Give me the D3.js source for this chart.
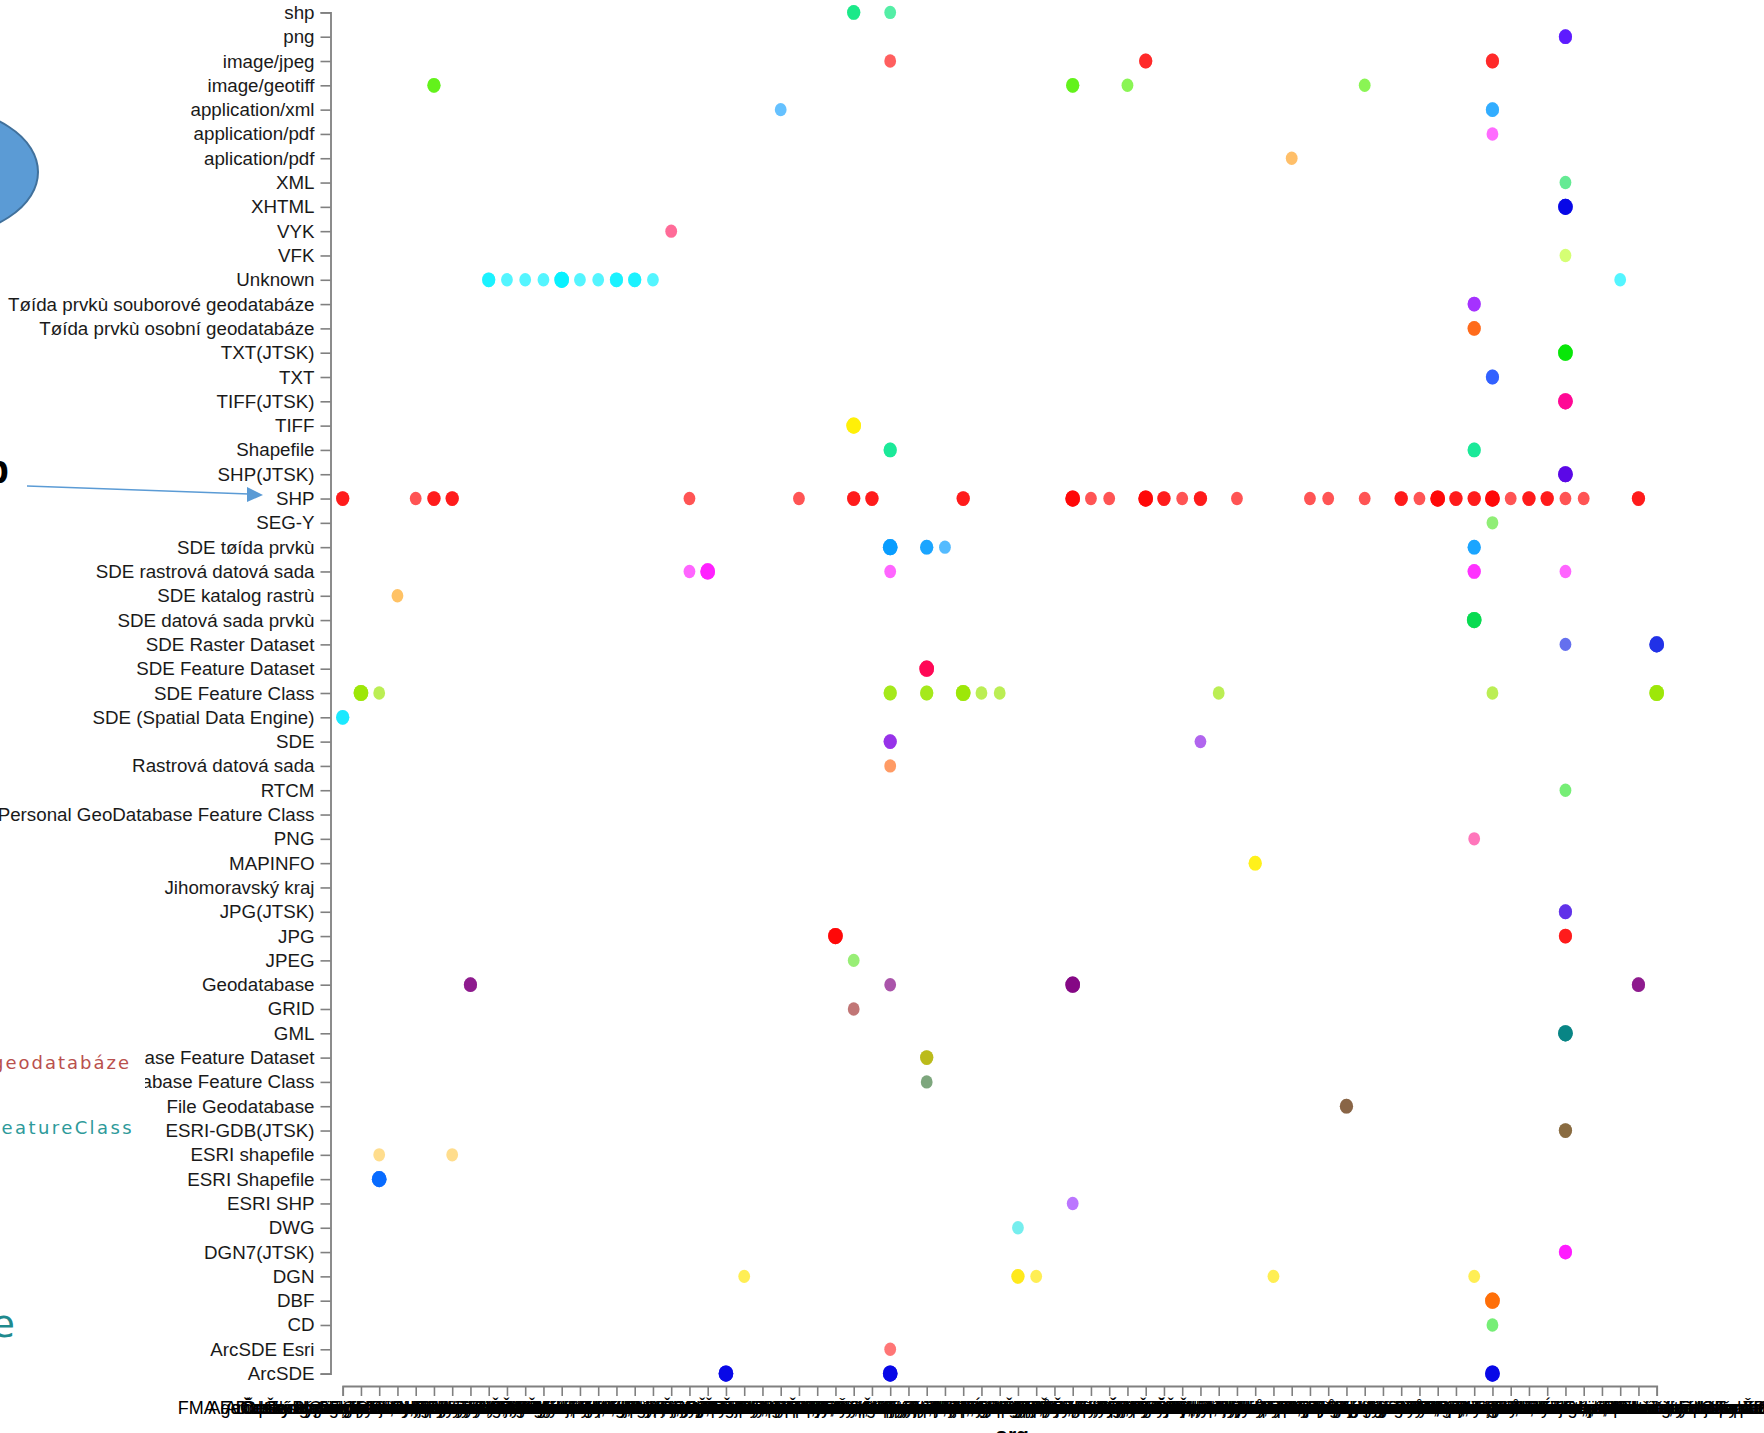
<!DOCTYPE html>
<html><head><meta charset="utf-8">
<script src="https://cdn.jsdelivr.net/npm/d3@7"></script>
<style>
html,body{margin:0;padding:0;background:#fff;overflow:hidden}
svg{display:block;font-family:"Liberation Sans",Arial,sans-serif}
</style></head><body>
<svg id="c" width="1764" height="1433"></svg>
<script>
// formats (y categories), top to bottom
const formats = [
 "shp","png","image/jpeg","image/geotiff","application/xml","application/pdf","aplication/pdf",
 "XML","XHTML","VYK","VFK","Unknown","Tøída prvkù souborové geodatabáze","Tøída prvkù osobní geodatabáze",
 "TXT(JTSK)","TXT","TIFF(JTSK)","TIFF","Shapefile","SHP(JTSK)","SHP","SEG-Y","SDE tøída prvkù",
 "SDE rastrová datová sada","SDE katalog rastrù","SDE datová sada prvkù","SDE Raster Dataset",
 "SDE Feature Dataset","SDE Feature Class","SDE (Spatial Data Engine)","SDE","Rastrová datová sada",
 "RTCM","Personal GeoDatabase Feature Class","PNG","MAPINFO","Jihomoravský kraj","JPG(JTSK)","JPG",
 "JPEG","Geodatabase","GRID","GML","File Geodatabase Feature Dataset","File Geodatabase Feature Class",
 "File Geodatabase","ESRI-GDB(JTSK)","ESRI shapefile","ESRI Shapefile","ESRI SHP","DWG","DGN7(JTSK)",
 "DGN","DBF","CD","ArcSDE Esri","ArcSDE"
];
const formatColors = [
 "#00e67a","#4a00ff","#ff1010","#50f000","#1aa3ff","#ff22ff","#ffa020",
 "#1ae060","#0000e6","#ff2266","#c0ff30","#00f0ff","#9a1aff","#ff5a00",
 "#00e600","#1a4dff","#ff0090","#ffee00","#00e68c","#5500e6","#ff0000","#5ae633","#0099ff",
 "#ff1aff","#ffa41a","#00d94a","#1a2ae6",
 "#ff0050","#99e600","#00e6ff","#8a1ae6","#ff6a1a",
 "#33e633","#888888","#ff3399","#ffee00","#888888","#4d1ae6","#ff0000",
 "#66e633","#800080","#a33333","#008080","#b3b300","#3d7a3d",
 "#7a5230","#7a5a2a","#ffcc55","#0066ff","#9a33ff","#33e6e6","#ff00ff",
 "#ffe600","#ff6a00","#33e633","#ff3333","#0000e6"
];
// organisations (x categories)
const orgs = [
 "FMA Fakulta managementu UTB ve Zlíně",
 "Agentura ochrany přírody a krajiny ČR",
 "Arcdata Praha, s.r.o., oddělení GIS dat",
 "Český hydrometeorologický ústav, Brno",
 "Česká geologická služba, odbor informatiky",
 "Český statistický úřad, odbor regionální statistiky",
 "Český úřad zeměměřický a katastrální, Praha 8",
 "Dopravní podnik hlavního města Prahy, akciová společnost",
 "Ekologický institut Veronica, základní organizace ČSOP",
 "Geodis Brno, spol. s r.o., oddělení fotogrammetrie",
 "GEODIS Geodetický a kartografický ústav Bratislava",
 "Hasičský záchranný sbor České republiky, generální ředitelství",
 "Institut plánování a rozvoje hlavního města Prahy",
 "Krajský úřad Jihočeského kraje, odbor životního prostředí",
 "Jihomoravský kraj, odbor životního prostředí a zemědělství",
 "Krajský úřad Karlovarského kraje, odbor informatiky",
 "Krajský úřad Kraje Vysočina, oddělení geografických informací",
 "Krajský úřad Královéhradeckého kraje, odbor regionálního rozvoje",
 "Krajský úřad Libereckého kraje, oddělení GIS a informatiky",
 "Lesy České republiky, státní podnik, Hradec Králové",
 "Magistrát hlavního města Prahy, odbor informatiky",
 "Magistrát města Brna, odbor územního plánování a rozvoje",
 "Magistrát města Ostravy, odbor hospodářské správy a GIS",
 "Ministerstvo dopravy České republiky, odbor infrastruktury",
 "Ministerstvo obrany České republiky, Geografická služba AČR",
 "Ministerstvo vnitra České republiky, odbor archivní správy",
 "Ministerstvo zemědělství České republiky, odbor vodovodů",
 "Ministerstvo životního prostředí České republiky, odbor IS",
 "Krajský úřad Moravskoslezského kraje, odbor životního prostředí",
 "Městský úřad Kroměříž, odbor informatiky a geografických dat",
 "Krajský úřad Olomouckého kraje, odbor strategického rozvoje",
 "Krajský úřad Pardubického kraje, oddělení GIS a informatiky",
 "Krajský úřad Plzeňského kraje, odbor informatiky a GIS",
 "Povodí Labe, státní podnik, Hradec Králové, útvar GIS",
 "Povodí Moravy, státní podnik, Brno, oddělení informatiky",
 "Povodí Odry, státní podnik, Ostrava, oddělení informatiky",
 "Povodí Ohře, státní podnik, Chomutov, oddělení informatiky",
 "Povodí Vltavy, státní podnik, Praha, oddělení informatiky",
 "Ředitelství silnic a dálnic České republiky, Praha 4",
 "Správa Krkonošského národního parku, Vrchlabí, oddělení GIS",
 "Správa Národního parku České Švýcarsko, Krásná Lípa",
 "Správa Národního parku Podyjí, Znojmo, oddělení GIS",
 "Správa Národního parku a CHKO Šumava, Vimperk, GIS",
 "Státní pozemkový úřad, odbor informačních technologií",
 "Státní úřad pro jadernou bezpečnost, odbor radiační ochrany",
 "Krajský úřad Středočeského kraje, odbor životního prostředí",
 "Technologická agentura České republiky, oddělení programů",
 "Ústav pro hospodářskou úpravu lesů Brandýs nad Labem",
 "Krajský úřad Ústeckého kraje, odbor informatiky a GIS",
 "Výzkumný ústav meliorací a ochrany půdy, v.v.i., Praha",
 "Výzkumný ústav vodohospodářský T. G. Masaryka, v.v.i.",
 "Vojenský geografický a hydrometeorologický úřad Dobruška",
 "Zeměměřický úřad, odbor správy geografických podkladů",
 "Krajský úřad Zlínského kraje, odbor životního prostředí",
 "Centrum dopravního výzkumu, veřejná výzkumná instituce",
 "CENIA, česká informační agentura životního prostředí",
 "Česká inspekce životního prostředí, ředitelství Praha",
 "Česká zemědělská univerzita v Praze, Fakulta lesnická",
 "České vysoké učení technické v Praze, Fakulta stavební",
 "Masarykova univerzita v Brně, Geografický ústav PřF",
 "Mendelova univerzita v Brně, Lesnická a dřevařská fakulta",
 "Univerzita Palackého v Olomouci, katedra geoinformatiky",
 "Vysoké učení technické v Brně, Fakulta stavební, ústav geodézie",
 "Vysoká škola báňská – Technická univerzita Ostrava, HGF",
 "Západočeská univerzita v Plzni, Fakulta aplikovaných věd",
 "Technická univerzita v Liberci, Fakulta přírodovědně-humanitní",
 "Univerzita J. E. Purkyně v Ústí nad Labem, Fakulta ŽP",
 "Krajský úřad Jihomoravského kraje, odbor životního prostředí",
 "Magistrát města Olomouce, odbor koncepce a rozvoje",
 "Magistrát města Zlína, odbor informatiky a GIS",
 "Městský úřad Hodonín, odbor životního prostředí a GIS",
 "Městský úřad Znojmo, odbor územního plánování a GIS",
 "Krajský úřad Pardubického kraje, odbor RaSHdys"
];
// records: [format, org index, number of datasets]
const points = [
 ["shp",28,2],["shp",30,1],
 ["png",67,2],
 ["image/jpeg",30,1],["image/jpeg",44,2],["image/jpeg",63,2],
 ["image/geotiff",5,2],["image/geotiff",40,2],["image/geotiff",43,1],["image/geotiff",56,1],
 ["application/xml",24,1],["application/xml",63,2],
 ["application/pdf",63,1],
 ["aplication/pdf",52,1],
 ["XML",67,1],
 ["XHTML",67,3],
 ["VYK",18,1],
 ["VFK",67,1],
 ["Unknown",8,2],["Unknown",9,1],["Unknown",10,1],["Unknown",11,1],["Unknown",12,3],["Unknown",13,1],
 ["Unknown",14,1],["Unknown",15,2],["Unknown",16,2],["Unknown",17,1],["Unknown",70,1],
 ["Tøída prvkù souborové geodatabáze",62,2],
 ["Tøída prvkù osobní geodatabáze",62,2],
 ["TXT(JTSK)",67,3],
 ["TXT",63,2],
 ["TIFF(JTSK)",67,3],
 ["TIFF",28,3],
 ["Shapefile",30,2],["Shapefile",62,2],
 ["SHP(JTSK)",67,3],
 ["SHP",0,2],["SHP",4,1],["SHP",5,2],["SHP",6,2],["SHP",19,1],["SHP",25,1],["SHP",28,2],["SHP",29,2],
 ["SHP",34,2],["SHP",40,3],["SHP",41,1],["SHP",42,1],["SHP",44,3],["SHP",45,2],["SHP",46,1],["SHP",47,2],
 ["SHP",49,1],["SHP",53,1],["SHP",54,1],["SHP",56,1],["SHP",58,2],["SHP",59,1],["SHP",60,3],["SHP",61,2],
 ["SHP",62,2],["SHP",63,3],["SHP",64,1],["SHP",65,2],["SHP",66,2],["SHP",67,1],["SHP",68,1],["SHP",71,2],
 ["SEG-Y",63,1],
 ["SDE tøída prvkù",30,3],["SDE tøída prvkù",32,2],["SDE tøída prvkù",33,1],["SDE tøída prvkù",62,2],
 ["SDE rastrová datová sada",19,1],["SDE rastrová datová sada",20,3],["SDE rastrová datová sada",30,1],
 ["SDE rastrová datová sada",62,2],["SDE rastrová datová sada",67,1],
 ["SDE katalog rastrù",3,1],
 ["SDE datová sada prvkù",62,3],
 ["SDE Raster Dataset",67,1],["SDE Raster Dataset",72,3],
 ["SDE Feature Dataset",32,3],
 ["SDE Feature Class",1,3],["SDE Feature Class",2,1],["SDE Feature Class",30,2],["SDE Feature Class",32,2],
 ["SDE Feature Class",34,3],["SDE Feature Class",35,1],["SDE Feature Class",36,1],["SDE Feature Class",48,1],
 ["SDE Feature Class",63,1],["SDE Feature Class",72,3],
 ["SDE (Spatial Data Engine)",0,2],
 ["SDE",30,2],["SDE",47,1],
 ["Rastrová datová sada",30,1],
 ["RTCM",67,1],
 ["PNG",62,1],
 ["MAPINFO",50,2],
 ["JPG(JTSK)",67,2],
 ["JPG",27,3],["JPG",67,2],
 ["JPEG",28,1],
 ["Geodatabase",7,2],["Geodatabase",30,1],["Geodatabase",40,3],["Geodatabase",71,2],
 ["GRID",28,1],
 ["GML",67,3],
 ["File Geodatabase Feature Dataset",32,2],
 ["File Geodatabase Feature Class",32,1],
 ["File Geodatabase",55,2],
 ["ESRI-GDB(JTSK)",67,2],
 ["ESRI shapefile",2,1],["ESRI shapefile",6,1],
 ["ESRI Shapefile",2,3],
 ["ESRI SHP",40,1],
 ["DWG",37,1],
 ["DGN7(JTSK)",67,2],
 ["DGN",22,1],["DGN",37,2],["DGN",38,1],["DGN",51,1],["DGN",62,1],
 ["DBF",63,3],
 ["CD",63,1],
 ["ArcSDE Esri",30,1],
 ["ArcSDE",21,3],["ArcSDE",30,3],["ArcSDE",63,3]
];

const svg = d3.select("#c");
const x = d3.scalePoint().domain(orgs).range([342.7, 1656.7]);
const y = d3.scalePoint().domain(formats).range([12.4, 1373.6]);
const color = d3.scaleOrdinal().domain(formats).range(formatColors);

// axes
const axisColor = "#808080";
const gy = svg.append("g").attr("transform","translate(330.5,0)")
  .call(d3.axisLeft(y).tickSize(10).tickPadding(6).tickSizeOuter(10));
gy.selectAll("text").attr("font-size","18.75px").attr("fill","#1a1a1a")
  .attr("font-family","Liberation Sans, Arial, sans-serif");
gy.selectAll("line").attr("stroke",axisColor).attr("stroke-width",1.6);
gy.select(".domain").attr("stroke",axisColor).attr("stroke-width",1.8);

const gx = svg.append("g").attr("transform","translate(0,1386)")
  .call(d3.axisBottom(x).tickSize(10).tickPadding(5).tickSizeOuter(10));
gx.selectAll("text").attr("font-size","18px").attr("fill","#000")
  .attr("font-family","Liberation Sans, Arial, sans-serif");
gx.selectAll("line").attr("stroke",axisColor).attr("stroke-width",1.6);
gx.select(".domain").attr("stroke",axisColor).attr("stroke-width",1.8);

svg.append("text").attr("x",1012).attr("y",1442).attr("text-anchor","middle")
  .attr("font-size","21px").attr("font-weight","bold").attr("fill","#000").text("org");

// dots: one translucent disc per dataset, stacked
const dots = [];
points.forEach(([f,o,n]) => { for (let k=0;k<n;k++) dots.push({f,o,n}); });
svg.append("g").selectAll("ellipse").data(dots).join("ellipse")
  .attr("cx", d => x(orgs[d.o]))
  .attr("cy", d => y(d.f))
  .attr("rx", d => 5.9 + (d.n-1)*0.7)
  .attr("ry", d => 6.7 + (d.n-1)*0.7)
  .attr("fill", d => color(d.f))
  .attr("fill-opacity", 0.67);

// slide annotations overlapping the chart on the left
const ann = svg.append("g");
ann.append("ellipse").attr("cx",-62).attr("cy",172).attr("rx",100).attr("ry",64)
  .attr("fill","#5b9bd5").attr("stroke","#41719c").attr("stroke-width",2);
ann.append("text").attr("x",9).attr("y",483).attr("text-anchor","end")
  .attr("font-size","40px").attr("font-weight","bold").attr("fill","#000").text("shp");
ann.append("line").attr("x1",27).attr("y1",486).attr("x2",249).attr("y2",494)
  .attr("stroke","#5b9bd5").attr("stroke-width",1.6);
ann.append("path").attr("d","M263,495 L247,487 L247,502 Z").attr("fill","#5b9bd5");
ann.append("rect").attr("x",0).attr("y",1046).attr("width",145).attr("height",96).attr("fill","#fff");
ann.append("text").attr("x",131).attr("y",1069).attr("text-anchor","end")
  .attr("font-family","DejaVu Sans, sans-serif").attr("font-size","18px").attr("letter-spacing","2px")
  .attr("fill","#b9504d").text("geodatabáze");
ann.append("text").attr("x",134).attr("y",1134).attr("text-anchor","end")
  .attr("font-family","DejaVu Sans, sans-serif").attr("font-size","18px").attr("letter-spacing","2.4px")
  .attr("fill","#2e9a9a").text("FeatureClass");
ann.append("text").attr("x",15).attr("y",1337).attr("text-anchor","end")
  .attr("font-family","DejaVu Sans, sans-serif").attr("font-size","38px")
  .attr("fill","#1f8a8e").text("e");
</script>
</body></html>
